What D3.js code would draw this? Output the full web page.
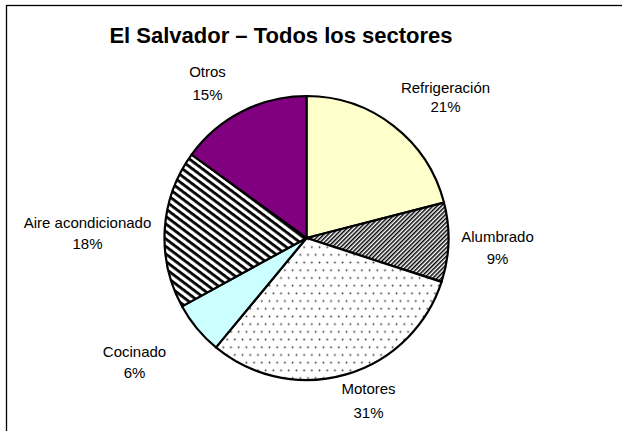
<!DOCTYPE html>
<html>
<head>
<meta charset="utf-8">
<script src="https://cdn.jsdelivr.net/npm/d3@7"></script>
<style>
  html, body { margin: 0; padding: 0; background: #fff; }
  svg { display: block; }
  text { font-family: "Liberation Sans", Arial, sans-serif; fill: #000; }
</style>
</head>
<body>
<svg id="chart" width="622" height="431"></svg>
<script>
// Energy use by sector, El Salvador (percent of total)
const categories = ["Refrigeración", "Alumbrado", "Motores", "Cocinado", "Aire acondicionado", "Otros"];
const shares = [21, 9, 31, 6, 18, 15];
const shareLabels = ["21%", "9%", "31%", "6%", "18%", "15%"];
const title = "El Salvador – Todos los sectores";

// Slice fills: solid colours or pattern ids
const fills = ["#FFFFCC", "url(#hatchFine)", "url(#dots)", "#CCFFFF", "url(#hatchWide)", "#800080"];

// Label placement (centre x relative to pie centre, baselines of the two lines)
const labelLayout = [
  { dx: 139, y1: 93, y2: 112 },
  { dx: 191, y1: 242, y2: 264 },
  { dx: 62, y1: 394, y2: 418 },
  { dx: -172, y1: 357, y2: 378 },
  { dx: -219, y1: 228, y2: 249 },
  { dx: -99, y1: 77, y2: 100 }
];

const svg = d3.select("#chart");
const W = 622, H = 431;
const cx = 306.5, cy = 238, r = 142;

// Frame
svg.append("rect")
  .attr("x", 6.5).attr("y", 5.5)
  .attr("width", W + 20).attr("height", H + 20)
  .attr("fill", "#fff").attr("stroke", "#000").attr("stroke-width", 1.3);

// Patterns
const defs = svg.append("defs");
const fine = defs.append("pattern")
  .attr("id", "hatchFine").attr("patternUnits", "userSpaceOnUse")
  .attr("width", 3).attr("height", 3)
  .attr("patternTransform", "rotate(45)");
fine.append("rect").attr("width", 3).attr("height", 3).attr("fill", "#fff");
fine.append("rect").attr("width", 1.5).attr("height", 3).attr("fill", "#000");

const wide = defs.append("pattern")
  .attr("id", "hatchWide").attr("patternUnits", "userSpaceOnUse")
  .attr("width", 6).attr("height", 6)
  .attr("patternTransform", "rotate(37)");
wide.append("rect").attr("width", 6).attr("height", 6).attr("fill", "#fff");
wide.append("rect").attr("width", 6).attr("height", 2.8).attr("fill", "#000");

const dots = defs.append("pattern")
  .attr("id", "dots").attr("patternUnits", "userSpaceOnUse")
  .attr("width", 7.7).attr("height", 15.4);
dots.append("rect").attr("width", 7.7).attr("height", 15.4).attr("fill", "#fff");
dots.append("circle").attr("cx", 1.5).attr("cy", 1.5).attr("r", 0.9).attr("fill", "#333");
dots.append("circle").attr("cx", 5.35).attr("cy", 9.2).attr("r", 0.9).attr("fill", "#333");

// Title
svg.append("text")
  .attr("x", 281).attr("y", 43)
  .attr("text-anchor", "middle")
  .attr("font-size", 22).attr("font-weight", "bold")
  .text(title);

// Pie
const data = categories.map((c, i) => ({ cat: c, value: shares[i], label: shareLabels[i], i }));
const pie = d3.pie().value(d => d.value).sort(null);
const arc = d3.arc().innerRadius(0).outerRadius(r);

const g = svg.append("g").attr("transform", `translate(${cx},${cy})`);
g.selectAll("path.slice")
  .data(pie(data))
  .join("path")
  .attr("class", "slice")
  .attr("d", arc)
  .attr("fill", d => fills[d.data.i])
  .attr("stroke", "#000")
  .attr("stroke-width", 2.2)
  .attr("stroke-linejoin", "round");

// Labels
const lab = svg.append("g").attr("font-size", 15).attr("text-anchor", "middle");
data.forEach((d, i) => {
  const L = labelLayout[i];
  lab.append("text").attr("x", cx + L.dx).attr("y", L.y1).text(d.cat);
  lab.append("text").attr("x", cx + L.dx).attr("y", L.y2).text(d.label);
});
</script>
</body>
</html>
